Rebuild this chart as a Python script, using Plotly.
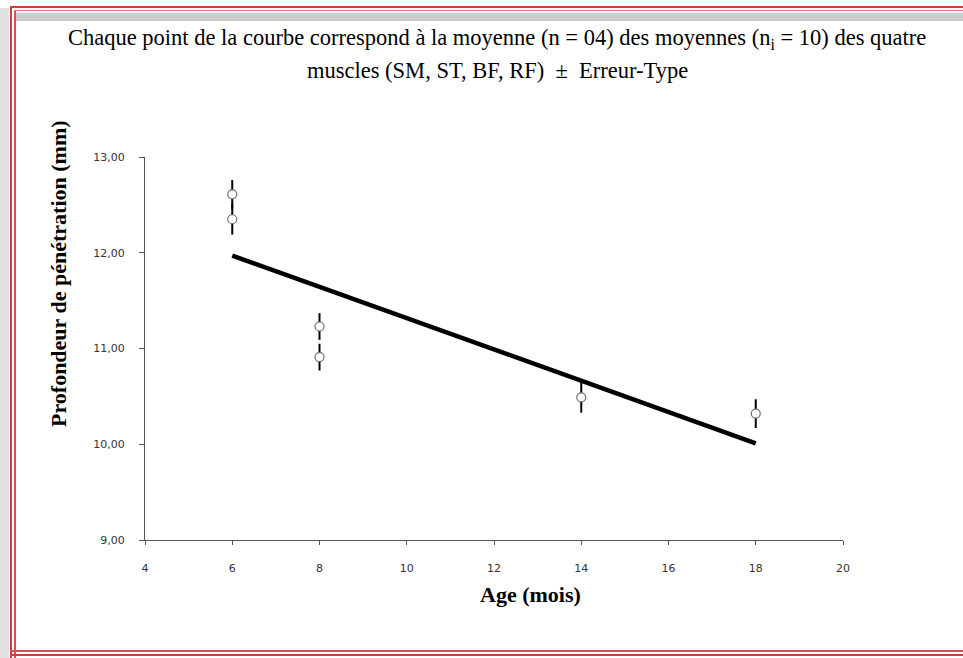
import plotly.graph_objects as go

# ---- data ----
age = [6, 6, 8, 8, 14, 18]
depth = [12.61, 12.35, 11.23, 10.91, 10.49, 10.32]
std_err = [0.15, 0.16, 0.14, 0.14, 0.16, 0.15]
trend_age = [6, 18]
trend_depth = [11.97, 10.01]
x_ticks = [4, 6, 8, 10, 12, 14, 16, 18, 20]
y_ticks = [9, 10, 11, 12, 13]
y_tick_labels = ["9,00", "10,00", "11,00", "12,00", "13,00"]

title_line1 = "Chaque point de la courbe correspond à la moyenne (n = 04) des moyennes (n<sub>i</sub> = 10) des quatre"
title_line2 = "muscles (SM, ST, BF, RF)  ±  Erreur-Type"
x_title = "Age (mois)"
y_title = "Profondeur de pénétration (mm)"

# ---- layout geometry (pixels) ----
W, H = 963, 658
L, R, T, B = 145, 843, 157, 540


def px(p):
    return p / W


def py(p):
    return 1 - p / H


fig = go.Figure()

fig.add_trace(go.Scatter(
    x=trend_age, y=trend_depth, mode="lines",
    line=dict(color="black", width=4.5),
    hoverinfo="skip", showlegend=False,
))

fig.add_trace(go.Scatter(
    x=age, y=depth, mode="markers",
    marker=dict(size=9, color="white", line=dict(color="#707070", width=1.2)),
    error_y=dict(type="data", array=std_err, visible=True, color="black",
                 thickness=2, width=0),
    showlegend=False,
))

axis_common = dict(
    showgrid=False, zeroline=False, showline=True, linecolor="#555555",
    linewidth=1, ticks="outside", tickcolor="#555555", tickwidth=1,
    automargin=False,
    tickfont=dict(family="DejaVu Sans", size=11, color="#333333"),
)

fig.update_xaxes(range=[4, 20], tickvals=x_ticks, ticklen=4,
                 domain=[px(L), px(R)],
                 ticklabelstandoff=14, **axis_common)
fig.update_yaxes(range=[9, 13], tickvals=y_ticks, ticktext=y_tick_labels,
                 domain=[py(B), py(T)],
                 ticklen=5, ticklabelstandoff=12, **axis_common)

serif = "Liberation Serif, Times New Roman, serif"
annotations = [
    dict(text=title_line1, x=px(497), y=py(39), xref="paper", yref="paper",
         showarrow=False, xanchor="center", yanchor="middle",
         font=dict(family=serif, size=22.5, color="black")),
    dict(text=title_line2, x=px(498), y=py(71), xref="paper", yref="paper",
         showarrow=False, xanchor="center", yanchor="middle",
         font=dict(family=serif, size=22.5, color="black")),
    dict(text="<b>" + x_title + "</b>", x=px(530), y=py(594), xref="paper",
         yref="paper", showarrow=False, xanchor="center", yanchor="middle",
         font=dict(family=serif, size=22, color="black")),
    dict(text="<b>" + y_title + "</b>", x=px(59), y=py(274), xref="paper",
         yref="paper", showarrow=False, xanchor="center", yanchor="middle",
         textangle=-90, font=dict(family=serif, size=22, color="black")),
]


def band(x0, x1, y0, y1, color):
    return dict(type="rect", xref="paper", yref="paper",
                x0=px(x0), x1=px(x1), y0=py(y1), y1=py(y0),
                fillcolor=color, line=dict(width=0), layer="above")


shapes = [
    # grey dotted bands
    band(0, 9, 8, 658, "#e0e0e0"),
    band(16, 963, 13, 21, "#cccccc"),
    # red frame (double line)
    band(10, 12, 6, 658, "#d23c3c"),
    band(14, 16, 10, 658, "#d65050"),
    band(10, 963, 6, 8, "#d23c3c"),
    band(14, 963, 10, 11, "#e08080"),
    band(10, 963, 650, 652, "#d65050"),
    band(10, 963, 654, 656, "#d23c3c"),
]

fig.update_layout(
    width=W, height=H,
    autosize=False,
    margin=dict(l=0, r=0, t=0, b=0, pad=0, autoexpand=False),
    paper_bgcolor="white", plot_bgcolor="white",
    annotations=annotations, shapes=shapes,
    showlegend=False,
)

fig.write_html(
    "out.html",
    config={"displayModeBar": False, "responsive": False},
    post_script=(
        "document.body.style.margin='0';"
        "document.body.style.overflow='hidden';"
        "document.documentElement.style.overflow='hidden';"
    ),
)
